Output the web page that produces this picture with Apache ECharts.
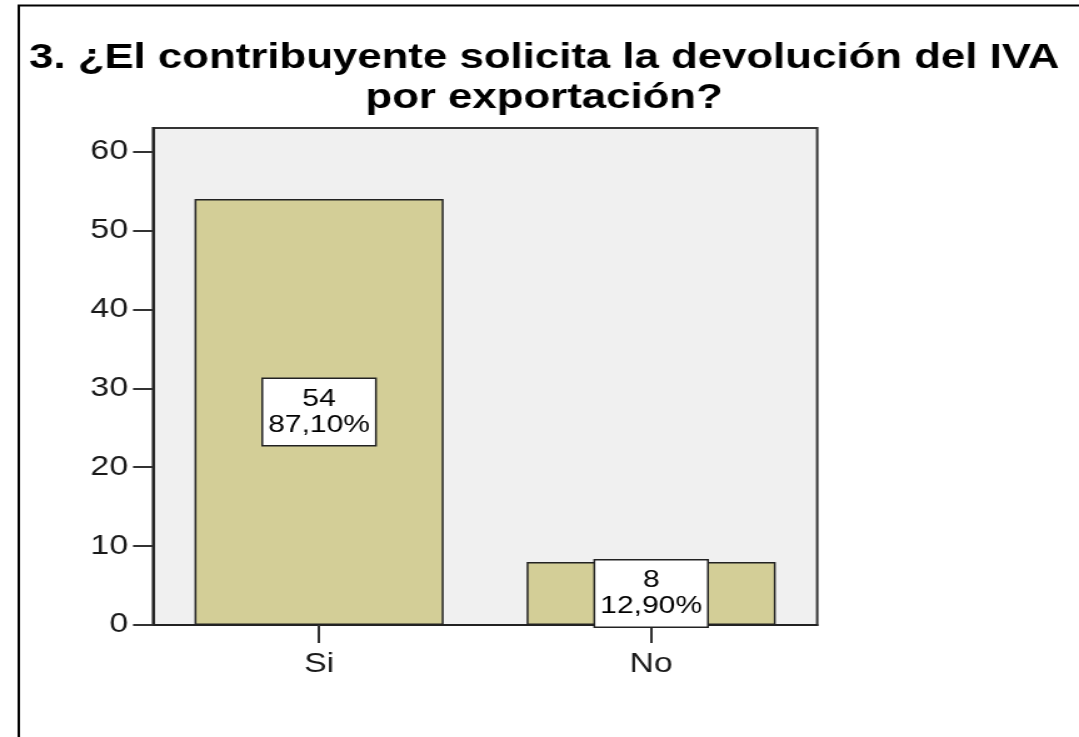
<!DOCTYPE html>
<html>
<head>
<meta charset="utf-8">
<script src="https://cdn.jsdelivr.net/npm/echarts@6/dist/echarts.min.js"></script>
<style>
html,body{margin:0;padding:0;background:#fff;overflow:hidden}
#c{width:863px;height:737px;transform:scaleX(1.2503);transform-origin:0 0}
</style>
</head>
<body>
<div id="c"></div>
<script>
const titleLines = ['3. ¿El contribuyente solicita la devolución del IVA', 'por exportación?'];
const categories = ['Si', 'No'];
const counts = [54, 8];
const percents = [87.10, 12.90];
const yTicks = [0, 10, 20, 30, 40, 50, 60];

const FONT = '"Liberation Sans", Arial, sans-serif';
const chart = echarts.init(document.getElementById('c'));
chart.setOption({
  animation: false,
  backgroundColor: '#ffffff',
  graphic: [{
    type: 'rect', silent: true, z: 100,
    shape: { x: 15, y: 5.5, width: 2000, height: 2000 },
    style: { fill: 'none', stroke: '#000', lineWidth: 2 }
  }],
  title: {
    text: titleLines.join('\n'),
    left: 435.2, top: 38, padding: 0, textAlign: 'center',
    textStyle: { fontFamily: FONT, fontWeight: 'bold', fontSize: 35, lineHeight: 40, color: '#000' }
  },
  grid: {
    left: 122.4, right: 209.4, top: 128, bottom: 112,
    show: true, backgroundColor: '#f0f0f0', borderColor: '#333', borderWidth: 2
  },
  xAxis: {
    type: 'category', data: categories,
    axisLine: { show: true, lineStyle: { color: '#222', width: 2 } },
    axisTick: { show: true, alignWithLabel: true, length: 18, lineStyle: { color: '#333', width: 2 } },
    axisLabel: { margin: 26, fontFamily: FONT, fontSize: 27, color: '#1a1a1a' }
  },
  yAxis: {
    type: 'value', min: 0, max: 63, interval: 10,
    splitLine: { show: false },
    axisLine: { show: true, lineStyle: { color: '#222', width: 2 } },
    axisTick: { show: true, length: 16, customValues: yTicks, lineStyle: { color: '#333', width: 2 } },
    axisLabel: { margin: 20, customValues: yTicks, fontFamily: FONT, fontSize: 27, color: '#1a1a1a' }
  },
  series: [{
    type: 'bar', data: counts, barWidth: '75%',
    itemStyle: { color: '#d3ce97', borderColor: '#222', borderWidth: 1.5 },
    label: {
      show: true, position: 'inside',
      formatter: p => p.value + '\n' + percents[p.dataIndex].toFixed(2).replace('.', ',') + '%',
      fontFamily: FONT, fontSize: 24, lineHeight: 26, color: '#000',
      backgroundColor: '#fff', borderColor: '#222', borderWidth: 1.5,
      padding: [7, 4, 7, 4], align: 'center'
    }
  }]
});
</script>
</body>
</html>
